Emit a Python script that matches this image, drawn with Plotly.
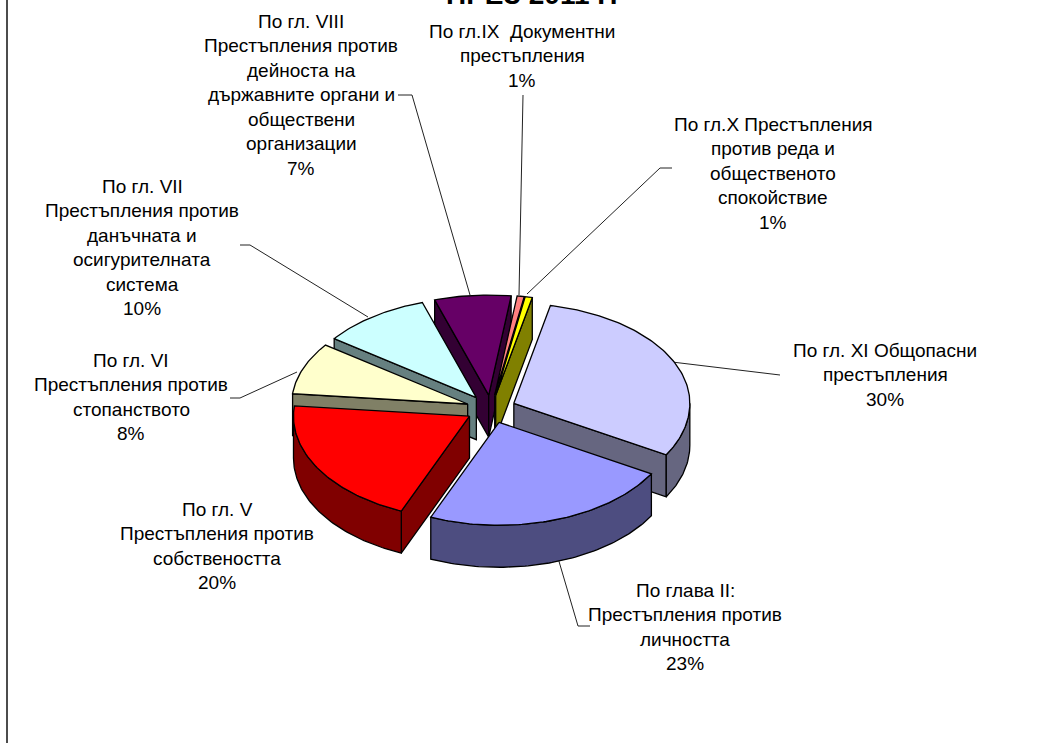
import math
import plotly.graph_objects as go

# --- data -------------------------------------------------------------
categories = ["XI", "II", "V", "VI", "VII", "VIII", "IX", "X"]
shares = [30.0, 23.0, 20.3, 8.4, 10.0, 7.0, 0.65, 0.65]
percent_labels = ["30%", "23%", "20%", "8%", "10%", "7%", "1%", "1%"]
label_lines = [
    ["По гл. XI Общопасни", "престъпления"],
    ["По глава II:", "Престъпления против", "личността"],
    ["По гл. V", "Престъпления против", "собствеността"],
    ["По гл. VI", "Престъпления против", "стопанството"],
    ["По гл. VII", "Престъпления против", "данъчната и", "осигурителната", "система"],
    ["По гл. VIII", "Престъпления против", "дейноста на", "държавните органи и", "обществени", "организации"],
    ["По гл.IX  Документни", "престъпления"],
    ["По гл.X Престъпления", "против реда и", "общественото", "спокойствие"],
]
top_colors = ["#CCCCFF", "#9999FF", "#FF0000", "#FFFFCC", "#CCFFFF", "#660066", "#FF8080", "#FFFF00"]
side_colors = ["#666680", "#4D4D80", "#800000", "#808066", "#668080", "#330033", "#804040", "#808000"]

# --- layout of the drawing ---------------------------------------------
W, H = 1037, 743
CX, CY = 491, 409
RX, RY_BACK, RY_FRONT = 176, 100, 103
DEPTH = 42
EX, EY = 25, 14
START = 12
label_pos = {
    "XI": (885, 350), "II": (685, 590), "V": (217, 509), "VI": (131, 360),
    "VII": (142, 186), "VIII": (301, 21), "IX": (522, 31), "X": (773, 124),
}
LINE_H = 24.5
leaders = [
    ([398, 412, 470], [95, 95, 295]),
    ([523, 519], [95, 295]),
    ([672, 660, 527], [168, 168, 294]),
    ([672, 780], [362, 375]),
    ([558, 578, 590], [558, 626, 626]),
    ([230, 240, 297], [398, 398, 372]),
    ([240, 250, 368], [245, 245, 317]),
]


def pt(ax, ay, t):
    r = math.radians(t)
    c = math.cos(r)
    return ax + RX * math.sin(r), ay - (RY_BACK if c >= 0 else RY_FRONT) * c


def poly(fig, xs, ys, color):
    fig.add_trace(go.Scatter(
        x=xs, y=ys, mode="lines", fill="toself", fillcolor=color,
        line=dict(color="#000000", width=1.3), hoverinfo="skip", showlegend=False,
    ))


fig = go.Figure()

for lx, ly in leaders:
    fig.add_trace(go.Scatter(x=lx, y=ly, mode="lines", line=dict(color="#222222", width=1),
                             hoverinfo="skip", showlegend=False))

total = sum(shares)
slices = []
a = START
for i, s in enumerate(shares):
    b = a + 360 * s / total
    slices.append((i, a, b))
    a = b


def depth_key(item):
    _, s, e = item
    return -math.cos(math.radians((s + e) / 2))


for i, s, e in sorted(slices, key=depth_key):
    mid = math.radians((s + e) / 2)
    ax = CX + EX * math.sin(mid)
    ay = CY - EY * math.cos(mid)
    # radial faces that look towards the viewer
    for edge, normal in ((s, s - 90), (e, e + 90)):
        if math.cos(math.radians(normal)) < 0:
            ox, oy = pt(ax, ay, edge)
            poly(fig, [ax, ox, ox, ax, ax], [ay, oy, oy + DEPTH, ay + DEPTH, ay], side_colors[i])
    # outer wall
    w0, w1 = max(s, 90), min(e, 270)
    if w1 > w0:
        n = max(2, int(w1 - w0))
        ts = [w0 + (w1 - w0) * k / n for k in range(n + 1)]
        up = [pt(ax, ay, t) for t in ts]
        xs = [p[0] for p in up] + [p[0] for p in reversed(up)]
        ys = [p[1] for p in up] + [p[1] + DEPTH for p in reversed(up)]
        poly(fig, xs + xs[:1], ys + ys[:1], side_colors[i])
    # top
    n = max(2, int(e - s))
    ts = [s + (e - s) * k / n for k in range(n + 1)]
    arc = [pt(ax, ay, t) for t in ts]
    poly(fig, [ax] + [p[0] for p in arc] + [ax], [ay] + [p[1] for p in arc] + [ay], top_colors[i])

annotations = []
for cat, lines, pct in zip(categories, label_lines, percent_labels):
    x0, y0 = label_pos[cat]
    for k, line in enumerate(lines + [pct]):
        annotations.append(dict(x=x0, y=y0 + k * LINE_H, text=line, showarrow=False,
                                xanchor="center", yanchor="middle",
                                font=dict(family="Liberation Sans", size=19, color="#000000")))

annotations.append(dict(xref="x", x=531, yref="paper", y=1, yshift=23, text="<b>ПРЕЗ 2011 Г.</b>",
                        showarrow=False, xanchor="center", yanchor="top",
                        font=dict(family="Liberation Sans", size=28, color="#000000")))

fig.update_layout(
    width=W, height=H, margin=dict(l=0, r=0, t=0, b=0),
    paper_bgcolor="#FFFFFF", plot_bgcolor="#FFFFFF",
    xaxis=dict(range=[0, W], visible=False, fixedrange=True),
    yaxis=dict(range=[H, 0], visible=False, fixedrange=True),
    annotations=annotations,
    shapes=[dict(type="line", x0=7, x1=7, y0=0, y1=H, line=dict(color="#111111", width=1.5))],
)
fig.write_html("out.html", config={"displayModeBar": False},
               post_script="document.body.style.margin='0';document.body.style.overflow='hidden';")
